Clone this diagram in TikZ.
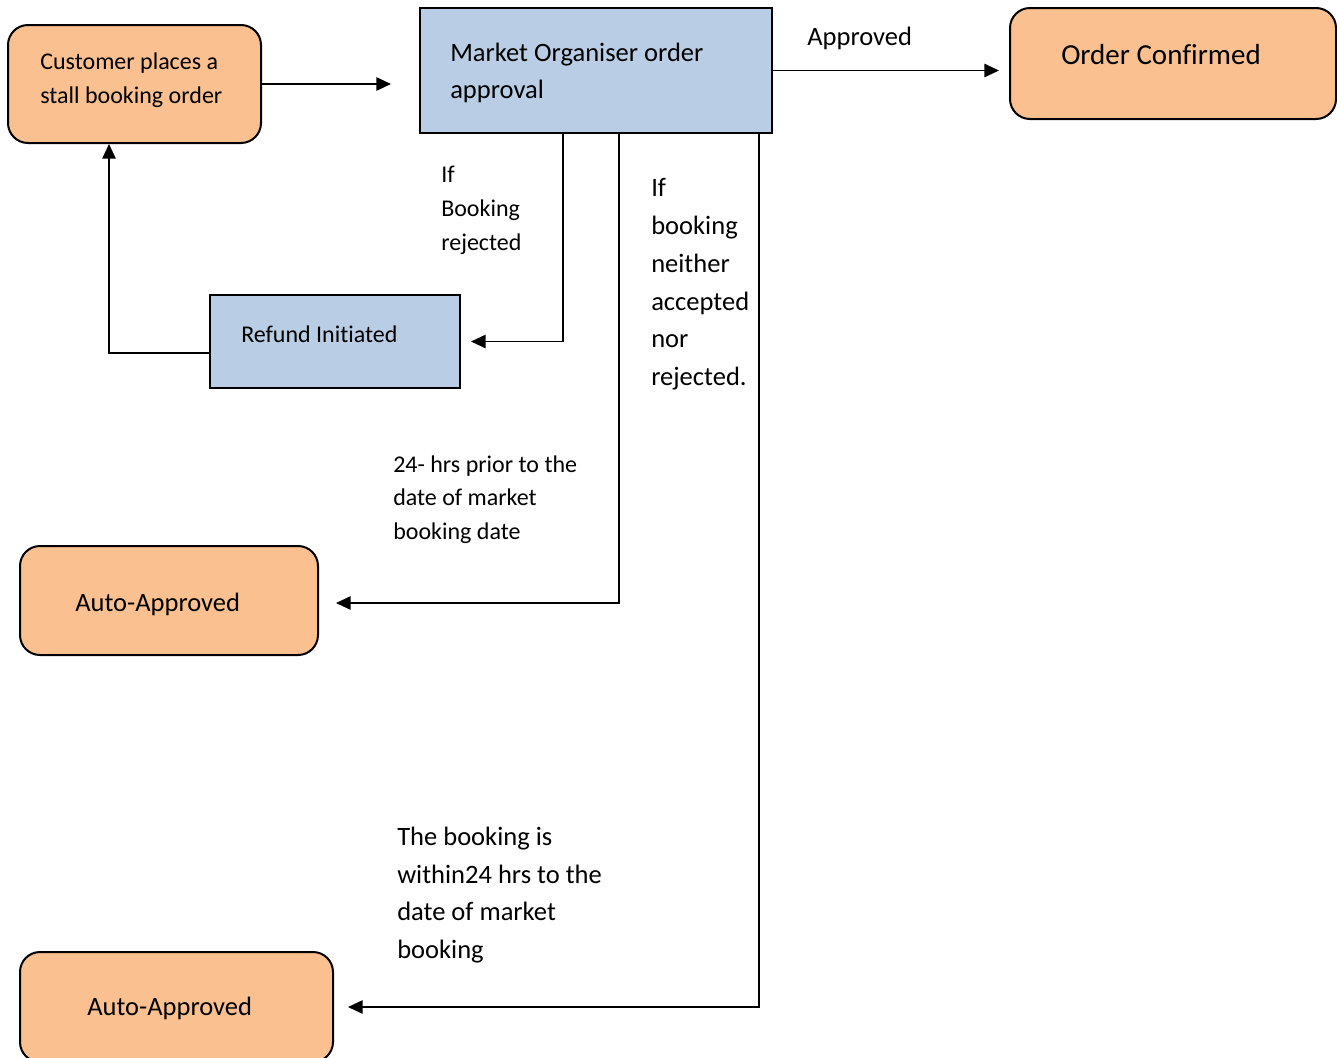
\documentclass[tikz,border=0pt]{standalone}
\usepackage{fontspec}
\setmainfont{Carlito}[Ligatures=NoCommon]
\usetikzlibrary{arrows.meta,fit,calc}
\definecolor{boxorange}{HTML}{FAC090}
\definecolor{boxblue}{HTML}{B9CDE5}
\begin{document}
\begin{tikzpicture}[x=0.75pt,y=-0.75pt,
  obox/.style={draw=black, line width=1.5pt, fill=boxorange, rounded corners=15pt, inner sep=0pt},
  bbox/.style={draw=black, line width=1.5pt, fill=boxblue, inner sep=0pt},
  arr/.style={line width=1.4pt, -{Triangle[length=11pt,width=10pt]}},
  small/.style={font=\fontsize{18}{25.3}\selectfont, align=left, inner sep=0pt, anchor=west},
  large/.style={font=\fontsize{19.9}{28.3}\selectfont, align=left, inner sep=0pt, anchor=west},
  huge/.style={font=\fontsize{21.75}{28}\selectfont, align=left, inner sep=0pt, anchor=west}]
\useasboundingbox (0,0) rectangle (1337,1057);
% boxes
\node[obox, fit={(8,25) (261,143)}] (cust) {};
\node[bbox, fit={(420,8) (772,133)}] (mo) {};
\node[obox, fit={(1010,8) (1336,119)}] (oc) {};
\node[bbox, fit={(210,295) (460,388)}] (refund) {};
\node[obox, fit={(20,546) (318,655)}] (auto1) {};
\node[obox, fit={(20,952) (333,1062)}] (auto2) {};
% box texts
\node[small] (custT) at (40,80) {Customer places a\\stall booking order};
\node[large] (moT) at (450,73) {Market Organiser order\\approval};
\node[huge] (ocT) at (1061,55) {Order Confirmed};
\node[small] (refundT) at (241,334.5) {Refund Initiated};
\node[large] (auto1T) at (75,604.5) {Auto-Approved};
\node[large] (auto2T) at (87,1008.5) {Auto-Approved};
% connectors
\draw[arr, shorten >=21pt] (cust.east) -- (cust.east -| mo.west);
\draw[arr, shorten >=7.5pt] (mo.east) -- (mo.east -| oc.west);
\draw[arr, shorten >=7.5pt] ($(mo.south west)+(144,0)$) |- (refund.east);
\draw[arr] ($(refund.west)+(0,11.5)$) -| ($(cust.south west)+(102,0)$);
\draw[arr, shorten >=12.75pt] ($(mo.south west)+(200,0)$) |- ($(auto1.east)+(0,2.5)$);
\draw[arr, shorten >=10.5pt] ($(mo.south west)+(340,0)$) |- (auto2.east);
% labels
\node[large] (lblApproved) at (807,38) {Approved};
\node[small] (lblRejected) at (441,210.5) {If\\Booking\\rejected};
\node[large] (lblNeither) at (651,284.5) {If\\booking\\neither\\accepted\\nor\\rejected.};
\node[small] (lblPrior) at (393,499.5) {24- hrs prior to the\\date of market\\booking date};
\node[large] (lblWithin) at (397,895) {The booking is\\within24 hrs to the\\date of market\\booking};
\end{tikzpicture}
\end{document}
